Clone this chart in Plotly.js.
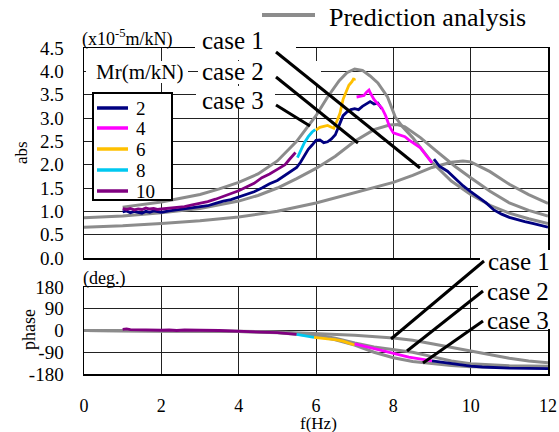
<!DOCTYPE html>
<html><head><meta charset="utf-8">
<script src="https://cdn.plot.ly/plotly-3.0.1.min.js"></script>
<style>html,body{margin:0;padding:0;background:#fff}#chart{width:559px;height:432px}</style>
</head><body><div id="chart"></div>
<script>
// ---------- data ----------
const freqTicks = [0, 2, 4, 6, 8, 10, 12];
const freqTickText = ['0', '2', '4', '6', '8', '10', '12'];
const absTicks = [0, 0.5, 1, 1.5, 2, 2.5, 3, 3.5, 4, 4.5];
const absTickText = ['0.0', '0.5', '1.0', '1.5', '2.0', '2.5', '3.0', '3.5', '4.0', '4.5'];
const phaseTicks = [-180, -90, 0, 90, 180];
const phaseTickText = ['-180', '-90', '0', '90', '180'];
const caseNames = ['case 1', 'case 2', 'case 3'];
const mrLabels = ['2', '4', '6', '8', '10'];

// prediction analysis, amplitude (x10^-5 m/kN)
const case1AbsF = [0, 1, 2, 3, 4, 5, 6, 7, 7.5, 8, 8.5, 9, 9.5, 9.8, 10, 10.5, 11, 11.5, 12];
const case1AbsV = [0.66, 0.69, 0.74, 0.8, 0.88, 1.0, 1.18, 1.4, 1.5, 1.62, 1.77, 1.94, 2.05, 2.08, 2.06, 1.85, 1.58, 1.36, 1.17];
const case2AbsF = [0, 1, 2, 3, 4, 4.5, 5, 5.5, 6, 6.5, 7, 7.5, 7.9, 8.1, 8.3, 8.7, 9.1, 9.6, 10, 10.5, 11, 11.5, 12];
const case2AbsV = [0.86, 0.9, 0.97, 1.06, 1.22, 1.34, 1.5, 1.7, 1.92, 2.18, 2.5, 2.75, 2.85, 2.86, 2.81, 2.58, 2.3, 1.96, 1.72, 1.43, 1.18, 1.02, 0.9];
const case3AbsF = [1, 2, 3, 3.5, 4, 4.5, 5, 5.5, 6, 6.3, 6.6, 6.8, 7.0, 7.2, 7.4, 7.6, 7.85, 8.05, 8.25, 8.5, 9, 9.5, 10, 10.5, 11, 11.5, 12];
const case3AbsV = [1.09, 1.2, 1.36, 1.48, 1.62, 1.8, 2.08, 2.5, 3.05, 3.45, 3.8, 3.97, 4.05, 4.02, 3.9, 3.75, 3.45, 3.02, 2.8, 2.58, 2.05, 1.65, 1.36, 1.13, 0.96, 0.84, 0.74];

// prediction analysis, phase (deg.)
const case1PhF = [0, 2, 4, 5, 6, 7, 8, 8.5, 9, 9.5, 10, 10.5, 11, 11.5, 12];
const case1PhV = [0, -1, -3, -6, -12, -20, -31, -40, -55, -70, -86, -102, -115, -126, -134];
const case2PhF = [0, 2, 4, 5, 5.5, 6, 6.5, 7, 7.5, 8, 8.5, 9, 9.5, 10, 10.5, 11, 12];
const case2PhV = [0, -1, -4, -8, -12, -18, -32, -52, -68, -78, -90, -108, -126, -138, -143, -146, -148];
const case3PhF = [0, 2, 4, 5, 5.5, 6, 6.5, 7, 7.5, 8, 8.5, 9, 9.5, 10, 11, 12];
const case3PhV = [0, -1, -4, -9, -14, -22, -38, -60, -90, -113, -128, -138, -145, -150, -153, -154];

// measured, amplitude
const mr2AbsF = [1.0, 1.1, 1.2, 1.3, 1.4, 1.5, 1.6, 1.7, 1.8, 1.9, 2.0, 2.2, 2.4, 2.6, 2.8, 3.0, 3.2, 3.4, 3.6, 3.8, 4.0, 4.2, 4.4, 4.6, 4.8, 5.0, 5.2, 5.4, 5.5, 5.6, 5.7, 5.8, 5.9, 6.0, 6.1, 6.2, 6.3, 6.4, 6.5, 6.6, 6.7, 6.8, 6.9, 7.0, 7.1, 7.2, 7.3, 7.4, 7.5, 7.6, 7.7, null, 9.05, 9.2, 9.4, 9.6, 9.8, 10.0, 10.2, 10.4, 10.6, 10.8, 11.0, 11.2, 11.4, 11.6, 11.8, 12.0];
const mr2AbsV = [0.99, 1.01, 0.97, 1.0, 0.98, 0.96, 1.0, 0.98, 1.01, 0.99, 0.98, 1.01, 1.03, 1.05, 1.07, 1.1, 1.12, 1.17, 1.22, 1.25, 1.31, 1.36, 1.42, 1.5, 1.59, 1.66, 1.77, 1.88, 1.94, 2.05, 2.2, 2.33, 2.42, 2.52, 2.53, 2.47, 2.49, 2.55, 2.64, 2.86, 3.05, 3.13, 3.18, 3.2, 3.18, 3.25, 3.3, 3.35, 3.3, 3.32, 3.2, null, 2.12, 1.96, 1.86, 1.7, 1.55, 1.42, 1.3, 1.18, 1.03, 0.94, 0.87, 0.82, 0.78, 0.74, 0.7, 0.66];
const mr10AbsF = [1.0, 1.1, 1.2, 1.3, 1.4, 1.5, 1.6, 1.7, 1.8, 1.9, 2.0, 2.2, 2.4, 2.6, 2.8, 3.0, 3.2, 3.4, 3.6, 3.8, 4.0, 4.2, 4.4, 4.6, 4.8, 5.0, 5.2, 5.3, 5.4, 5.47];
const mr10AbsV = [1.06, 1.04, 1.06, 1.03, 1.05, 1.04, 1.07, 1.05, 1.06, 1.04, 1.05, 1.07, 1.09, 1.1, 1.14, 1.17, 1.21, 1.26, 1.32, 1.39, 1.44, 1.52, 1.6, 1.72, 1.8, 1.9, 2.0, 2.1, 2.2, 2.26];
const mr8AbsF = [5.52, 5.6, 5.7, 5.8, 5.9, 5.98];
const mr8AbsV = [2.15, 2.3, 2.47, 2.6, 2.7, 2.75];
const mr6AbsF = [6.0, 6.1, 6.2, 6.3, 6.4, 6.46, 6.55, 6.62, 6.7, 6.78, 6.85, 6.93, 6.98, 7.0];
const mr6AbsV = [2.74, 2.8, 2.82, 2.84, 2.8, 2.78, 2.95, 3.1, 3.4, 3.58, 3.7, 3.78, 3.85, 3.8];
const mr4AbsF = [7.05, 7.15, 7.24, 7.3, 7.37, 7.41, 7.5, 7.6, 7.7, 7.8, 7.9, 8.0, 8.1, 8.2, 8.3, 8.4, 8.5, 8.6, 8.7, 8.8, 8.9, 9.0];
const mr4AbsV = [3.45, 3.47, 3.48, 3.55, 3.6, 3.53, 3.4, 3.3, 3.22, 3.05, 2.82, 2.68, 2.65, 2.63, 2.6, 2.53, 2.47, 2.42, 2.36, 2.25, 2.15, 2.04];

// measured, phase
const mr10PhF = [1.0, 1.1, 1.2, 1.4, 1.6, 1.8, 2.0, 2.2, 2.4, 2.6, 2.8, 3.0, 3.5, 4.0, 4.5, 5.0, 5.5];
const mr10PhV = [5, 7, 4, 3, 2, 2, 1, 2, 0, 2, 0, 1, 0, -2, -5, -9, -16];
const mr8PhF = [5.5, 5.7, 5.95];
const mr8PhV = [-16, -22, -28];
const mr6PhF = [5.95, 6.1, 6.3, 6.5, 6.7, 6.85, 7.0];
const mr6PhV = [-28, -32, -35, -38, -44, -52, -60];
const mr4PhF = [7.0, 7.2, 7.4, 7.6, 7.8, 8.0, 8.2, 8.4, 8.6, 8.8, 9.0];
const mr4PhV = [-55, -63, -70, -78, -88, -97, -104, -110, -115, -120, -126];
const mr2PhF = [9.0, 9.3, 9.6, 10, 10.3, 10.6, 11, 11.5, 12];
const mr2PhV = [-126, -133, -140, -147, -151, -154, -156, -157, -158];

// ---------- styles ----------
const FONT = 'Liberation Serif, Times New Roman, serif';
const GRAY = '#8c8c8c';
const mrColors = {'2': '#000080', '4': '#ff00ff', '6': '#ffc000', '8': '#00c8f0', '10': '#800080'};

const W = 559, H = 432, L = 84, R = 548, T = 48, B = 374;
const px = x => (x - L) / (R - L);
const py = y => (B - y) / (B - T);
const topDomain = [py(258), 1];
const botDomain = [0, py(287)];

function line(x, y, color, width, xa, ya, name) {
  return {x: x, y: y, type: 'scatter', mode: 'lines', name: name || '',
    line: {color: color, width: width}, xaxis: xa, yaxis: ya,
    showlegend: false, hoverinfo: 'skip', connectgaps: false};
}

const traces = [
  line(case1AbsF, case1AbsV, GRAY, 3, 'x', 'y', caseNames[0]),
  line(case2AbsF, case2AbsV, GRAY, 3, 'x', 'y', caseNames[1]),
  line(case3AbsF, case3AbsV, GRAY, 3, 'x', 'y', caseNames[2]),
  line(mr2AbsF, mr2AbsV, mrColors['2'], 2.8, 'x', 'y', mrLabels[0]),
  line(mr10AbsF, mr10AbsV, mrColors['10'], 2.8, 'x', 'y', mrLabels[4]),
  line(mr8AbsF, mr8AbsV, mrColors['8'], 2.8, 'x', 'y', mrLabels[3]),
  line(mr6AbsF, mr6AbsV, mrColors['6'], 2.8, 'x', 'y', mrLabels[2]),
  line(mr4AbsF, mr4AbsV, mrColors['4'], 2.8, 'x', 'y', mrLabels[1]),
  line(case1PhF, case1PhV, GRAY, 3, 'x2', 'y2', caseNames[0]),
  line(case2PhF, case2PhV, GRAY, 3, 'x2', 'y2', caseNames[1]),
  line(case3PhF, case3PhV, GRAY, 3, 'x2', 'y2', caseNames[2]),
  line(mr10PhF, mr10PhV, mrColors['10'], 2.8, 'x2', 'y2', mrLabels[4]),
  line(mr8PhF, mr8PhV, mrColors['8'], 2.8, 'x2', 'y2', mrLabels[3]),
  line(mr6PhF, mr6PhV, mrColors['6'], 2.8, 'x2', 'y2', mrLabels[2]),
  line(mr4PhF, mr4PhV, mrColors['4'], 2.8, 'x2', 'y2', mrLabels[1]),
  line(mr2PhF, mr2PhV, mrColors['2'], 2.8, 'x2', 'y2', mrLabels[0])
];

function ann(text, x, y, size, extra) {
  return Object.assign({text: text, xref: 'paper', yref: 'paper', x: px(x), y: py(y),
    xanchor: 'left', yanchor: 'middle', showarrow: false,
    font: {family: FONT, size: size, color: '#000'}}, extra || {});
}
function rectPx(x0, y0, x1, y1, fill, lc, lw) {
  return {type: 'rect', xref: 'paper', yref: 'paper', layer: 'above',
    x0: px(x0), x1: px(x1), y0: py(y1), y1: py(y0),
    fillcolor: fill, line: {color: lc || fill, width: lw || 0}};
}
function segPx(x0, y0, x1, y1, color, width) {
  return {type: 'line', xref: 'paper', yref: 'paper', layer: 'above',
    x0: px(x0), x1: px(x1), y0: py(y0), y1: py(y1), line: {color: color, width: width}};
}

const shapes = [
  // white label backgrounds
  rectPx(195, 36, 296, 60, '#fff'),
  rectPx(86, 61, 188, 83, '#fff'),
  rectPx(198, 61, 321, 84, '#fff'),
  rectPx(196, 86, 275, 108, '#fff'),
  rectPx(480, 250, 552, 274, '#fff'),
  rectPx(478, 279, 552, 304, '#fff'),
  rectPx(478, 304, 552, 329, '#fff'),
  // leader lines
  segPx(276, 52, 420, 168, '#000', 3),
  segPx(276, 77, 358, 143, '#000', 3),
  segPx(276, 105, 310, 126, '#000', 3),
  segPx(484, 261, 391, 339, '#000', 3),
  segPx(483, 291, 407, 351, '#000', 3),
  segPx(483, 321, 423, 363, '#000', 3),
  // top legend sample
  segPx(262, 15, 315, 15, GRAY, 4),
  // Mr legend box
  rectPx(93, 93, 172, 200, '#fff', '#000', 2)
];
const annotations = [
  ann('Prediction analysis', 327, 17, 26),
  ann('(x10<sup>-5</sup>m/kN)', 80, 38, 18),
  ann(caseNames[0], 200, 41, 25),
  ann(caseNames[1], 200, 71, 25),
  ann(caseNames[2], 200, 101, 25),
  ann('Mr(m/kN)', 94, 72, 21),
  ann('abs', 21, 153, 17, {xanchor: 'center', textangle: -90}),
  ann('phase', 29, 330, 18, {xanchor: 'center', textangle: -90}),
  ann('(deg.)', 81, 278, 18),
  ann(caseNames[0], 486, 261, 25),
  ann(caseNames[1], 485, 291, 25),
  ann(caseNames[2], 485, 320, 25),
  ann('f(Hz)', 318, 423, 17, {xanchor: 'center'})
];
const legendY = [108, 128, 149, 170, 191];
mrLabels.forEach((lab, i) => {
  shapes.push(segPx(97, legendY[i], 128, legendY[i], mrColors[lab], 3.5));
  annotations.push(ann(lab, 134, legendY[i], 19));
});

const axisCommon = {showline: true, mirror: true, linecolor: '#000', linewidth: 1.5,
  showgrid: true, gridcolor: '#222', gridwidth: 1, zeroline: false, ticks: '',
  tickfont: {family: FONT, size: 19, color: '#000'}, fixedrange: true};

const layout = {
  width: W, height: H,
  margin: {l: L, r: W - R, t: T, b: H - B, pad: 0},
  paper_bgcolor: '#fff', plot_bgcolor: '#fff',
  font: {family: FONT, color: '#000'},
  showlegend: false,
  xaxis: Object.assign({}, axisCommon, {range: [0, 12], tickvals: freqTicks, ticktext: freqTickText,
    showticklabels: false, anchor: 'y'}),
  yaxis: Object.assign({}, axisCommon, {domain: topDomain, range: [0, 4.5], tickvals: absTicks,
    ticktext: absTickText, anchor: 'x', ticklabelstandoff: 15}),
  xaxis2: Object.assign({}, axisCommon, {range: [0, 12], tickvals: freqTicks, ticktext: freqTickText,
    matches: 'x', anchor: 'y2', ticklabelstandoff: 15, tickfont: {family: FONT, size: 18, color: '#000'}}),
  yaxis2: Object.assign({}, axisCommon, {domain: botDomain, range: [-180, 180], tickvals: phaseTicks,
    ticktext: phaseTickText, anchor: 'x2', ticklabelstandoff: 15}),
  shapes: shapes,
  annotations: annotations
};

Plotly.newPlot('chart', traces, layout, {staticPlot: true, displayModeBar: false});
</script>
</body></html>
